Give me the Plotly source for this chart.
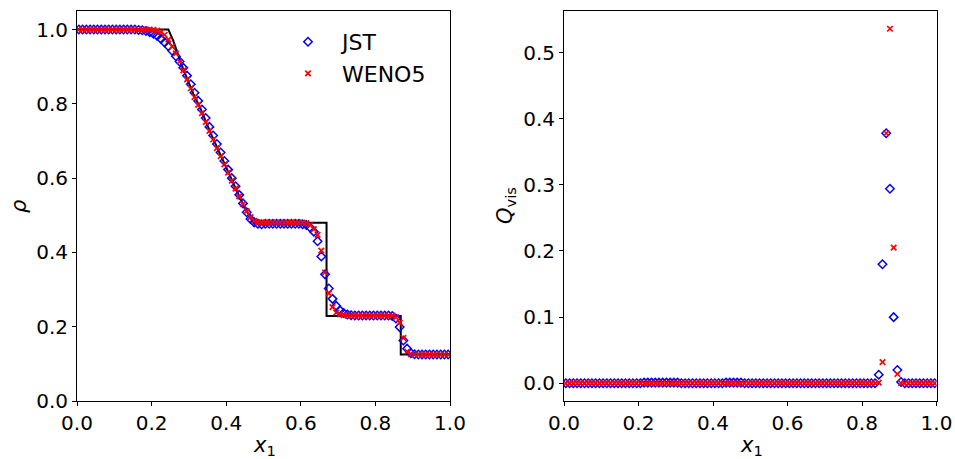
import plotly.graph_objects as go

# ---------------- data ----------------
x_cells = [
    0.005, 0.015, 0.025, 0.035, 0.045, 0.055, 0.065, 0.075, 0.085, 0.095,
    0.105, 0.115, 0.125, 0.135, 0.145, 0.155, 0.165, 0.175, 0.185, 0.195,
    0.205, 0.215, 0.225, 0.235, 0.245, 0.255, 0.265, 0.275, 0.285, 0.295,
    0.305, 0.315, 0.325, 0.335, 0.345, 0.355, 0.365, 0.375, 0.385, 0.395,
    0.405, 0.415, 0.425, 0.435, 0.445, 0.455, 0.465, 0.475, 0.485, 0.495,
    0.505, 0.515, 0.525, 0.535, 0.545, 0.555, 0.565, 0.575, 0.585, 0.595,
    0.605, 0.615, 0.625, 0.635, 0.645, 0.655, 0.665, 0.675, 0.685, 0.695,
    0.705, 0.715, 0.725, 0.735, 0.745, 0.755, 0.765, 0.775, 0.785, 0.795,
    0.805, 0.815, 0.825, 0.835, 0.845, 0.855, 0.865, 0.875, 0.885, 0.895,
    0.905, 0.915, 0.925, 0.935, 0.945, 0.955, 0.965, 0.975, 0.985, 0.995,
]

rho_jst = [
    1.000, 1.000, 1.000, 1.000, 1.000, 1.000, 1.000, 1.000, 1.000, 1.000,
    1.000, 1.000, 1.000, 1.000, 1.000, 1.000, 0.999, 0.998, 0.996, 0.993,
    0.989, 0.983, 0.975, 0.965, 0.955, 0.943, 0.928, 0.914, 0.897, 0.876,
    0.853, 0.830, 0.808, 0.785, 0.762, 0.738, 0.715, 0.692, 0.669, 0.646,
    0.623, 0.600, 0.578, 0.555, 0.532, 0.508, 0.490, 0.481, 0.477, 0.476,
    0.477, 0.477, 0.477, 0.477, 0.477, 0.477, 0.477, 0.477, 0.477, 0.477,
    0.476, 0.474, 0.467, 0.456, 0.430, 0.389, 0.341, 0.303, 0.275, 0.256,
    0.244, 0.237, 0.233, 0.231, 0.230, 0.230, 0.230, 0.230, 0.230, 0.230,
    0.230, 0.230, 0.230, 0.230, 0.229, 0.222, 0.199, 0.163, 0.141, 0.129,
    0.126, 0.125, 0.125, 0.125, 0.125, 0.125, 0.125, 0.125, 0.125, 0.125,
]

rho_weno5 = [
    1.000, 1.000, 1.000, 1.000, 1.000, 1.000, 1.000, 1.000, 1.000, 1.000,
    1.000, 1.000, 1.000, 1.000, 1.000, 1.000, 1.000, 1.000, 1.000, 1.000,
    0.999, 0.997, 0.993, 0.986, 0.973, 0.955, 0.936, 0.914, 0.890, 0.866,
    0.842, 0.818, 0.797, 0.775, 0.751, 0.727, 0.704, 0.681, 0.659, 0.637,
    0.615, 0.593, 0.572, 0.551, 0.530, 0.511, 0.495, 0.485, 0.481, 0.480,
    0.480, 0.480, 0.480, 0.480, 0.480, 0.480, 0.480, 0.480, 0.480, 0.480,
    0.480, 0.479, 0.474, 0.463, 0.447, 0.405, 0.346, 0.290, 0.253, 0.238,
    0.233, 0.231, 0.230, 0.230, 0.230, 0.230, 0.230, 0.230, 0.230, 0.230,
    0.230, 0.230, 0.230, 0.230, 0.230, 0.226, 0.211, 0.170, 0.133, 0.126,
    0.125, 0.125, 0.125, 0.125, 0.125, 0.125, 0.125, 0.125, 0.125, 0.125,
]

q_vis_jst = [
    0.000, 0.000, 0.000, 0.000, 0.000, 0.000, 0.000, 0.000, 0.000, 0.000,
    0.000, 0.000, 0.000, 0.000, 0.000, 0.000, 0.000, 0.000, 0.000, 0.000,
    0.000, 0.001, 0.001, 0.001, 0.001, 0.001, 0.001, 0.001, 0.001, 0.001,
    0.001, 0.000, 0.000, 0.000, 0.000, 0.000, 0.000, 0.000, 0.000, 0.000,
    0.000, 0.000, 0.000, 0.001, 0.001, 0.001, 0.001, 0.001, 0.000, 0.000,
    0.000, 0.000, 0.000, 0.000, 0.000, 0.000, 0.000, 0.000, 0.000, 0.000,
    0.000, 0.000, 0.000, 0.000, 0.000, 0.000, 0.000, 0.000, 0.000, 0.000,
    0.000, 0.000, 0.000, 0.000, 0.000, 0.000, 0.000, 0.000, 0.000, 0.000,
    0.000, 0.000, 0.000, 0.000, 0.013, 0.180, 0.378, 0.294, 0.100, 0.020,
    0.002, 0.000, 0.000, 0.000, 0.000, 0.000, 0.000, 0.000, 0.000, 0.000,
]

q_vis_weno5 = [
    0.000, 0.000, 0.000, 0.000, 0.000, 0.000, 0.000, 0.000, 0.000, 0.000,
    0.000, 0.000, 0.000, 0.000, 0.000, 0.000, 0.000, 0.000, 0.000, 0.000,
    0.000, 0.000, 0.000, 0.000, 0.000, 0.000, 0.000, 0.000, 0.000, 0.000,
    0.000, 0.000, 0.000, 0.000, 0.000, 0.000, 0.000, 0.000, 0.000, 0.000,
    0.000, 0.000, 0.000, 0.000, 0.000, 0.000, 0.000, 0.000, 0.000, 0.000,
    0.000, 0.000, 0.000, 0.000, 0.000, 0.000, 0.000, 0.000, 0.000, 0.000,
    0.000, 0.000, 0.000, 0.000, 0.000, 0.000, 0.000, 0.000, 0.000, 0.000,
    0.000, 0.000, 0.000, 0.000, 0.000, 0.000, 0.000, 0.000, 0.000, 0.000,
    0.000, 0.000, 0.000, 0.000, 0.001, 0.032, 0.378, 0.536, 0.205, 0.014,
    0.000, 0.000, 0.000, 0.000, 0.000, 0.000, 0.000, 0.000, 0.000, 0.000,
]

# exact solution
x_exact = [0.0, 0.245, 0.258, 0.285, 0.312, 0.330, 0.361, 0.392, 0.419,
           0.446, 0.473, 0.669, 0.669, 0.868, 0.868, 1.0]
rho_exact = [1.0, 1.0, 0.970, 0.893, 0.827, 0.790, 0.715, 0.645, 0.585,
             0.527, 0.480, 0.480, 0.229, 0.229, 0.125, 0.125]

x_ticks = [0.0, 0.2, 0.4, 0.6, 0.8, 1.0]
rho_ticks = [0.0, 0.2, 0.4, 0.6, 0.8, 1.0]
q_ticks = [0.0, 0.1, 0.2, 0.3, 0.4, 0.5]

# ---------------- figure ----------------
W, H = 955, 459
FONT = "DejaVu Sans"
BLUE = "#0000ff"
RED = "#ff0000"

jst_marker = dict(symbol="diamond-open", size=6.5, color=BLUE, line=dict(width=1.5, color=BLUE))
weno_marker = dict(symbol="x-thin-open", size=5.5, color=RED, line=dict(width=1.7, color=RED))

fig = go.Figure()

fig.add_trace(go.Scatter(x=x_exact, y=rho_exact, mode="lines",
                         line=dict(color="black", width=2),
                         showlegend=False, xaxis="x", yaxis="y"))
fig.add_trace(go.Scatter(x=x_cells, y=rho_jst, mode="markers", name="\u00a0\u00a0JST",
                         marker=jst_marker, xaxis="x", yaxis="y"))
fig.add_trace(go.Scatter(x=x_cells, y=rho_weno5, mode="markers", name="\u00a0\u00a0WENO5",
                         marker=weno_marker, xaxis="x", yaxis="y"))
fig.add_trace(go.Scatter(x=x_cells, y=q_vis_jst, mode="markers", showlegend=False,
                         marker=jst_marker, xaxis="x2", yaxis="y2"))
fig.add_trace(go.Scatter(x=x_cells, y=q_vis_weno5, mode="markers", showlegend=False,
                         marker=weno_marker, xaxis="x2", yaxis="y2"))

axis_common = dict(showline=True, linecolor="black", linewidth=1, mirror=True,
                   ticks="outside", ticklen=4, tickwidth=1, tickcolor="black",
                   showgrid=False, zeroline=False, automargin=False,
                   tickfont=dict(family=FONT, size=20, color="black"))

ydom = [58 / H, 448 / H]

label_font = dict(family=FONT, size=21, color="black")

fig.update_layout(
    width=W, height=H,
    margin=dict(l=0, r=0, t=0, b=0, autoexpand=False),
    paper_bgcolor="white", plot_bgcolor="white",
    font=dict(family=FONT, size=20, color="black"),
    xaxis=dict(domain=[77 / W, 450 / W], range=[0, 1], tickvals=x_ticks,
               tickformat=".1f", anchor="y", **axis_common),
    yaxis=dict(domain=ydom, range=[0, 1.05], tickvals=rho_ticks,
               tickformat=".1f", anchor="x", **axis_common),
    xaxis2=dict(domain=[564 / W, 936.5 / W], range=[0, 1], tickvals=x_ticks,
                tickformat=".1f", anchor="y2", **axis_common),
    yaxis2=dict(domain=ydom, range=[-0.0268, 0.5628], tickvals=q_ticks,
                tickformat=".1f", anchor="x2", **axis_common),
    legend=dict(x=288 / W, y=1 - 21 / H, xanchor="left", yanchor="top",
                bgcolor="rgba(0,0,0,0)", borderwidth=0,
                font=dict(family=FONT, size=22, color="black"),
                itemsizing="trace"),
    annotations=[
        dict(text="<i>x</i><sub>1</sub>", x=264 / W, y=1 - 446 / H, xref="paper", yref="paper",
             xanchor="center", yanchor="middle", showarrow=False, font=label_font),
        dict(text="<i>x</i><sub>1</sub>", x=751 / W, y=1 - 446 / H, xref="paper", yref="paper",
             xanchor="center", yanchor="middle", showarrow=False, font=label_font),
        dict(text="<i>ρ</i>", x=19 / W, y=1 - 206 / H, xref="paper", yref="paper",
             xanchor="center", yanchor="middle", showarrow=False, textangle=-90, font=label_font),
        dict(text="<i>Q</i><sub>vis</sub>", x=506 / W, y=1 - 206 / H, xref="paper", yref="paper",
             xanchor="center", yanchor="middle", showarrow=False, textangle=-90, font=label_font),
    ],
)

fig.write_html("out.html", config={"displayModeBar": False},
               post_script="document.body.style.margin='0';document.body.style.overflow='hidden';")
